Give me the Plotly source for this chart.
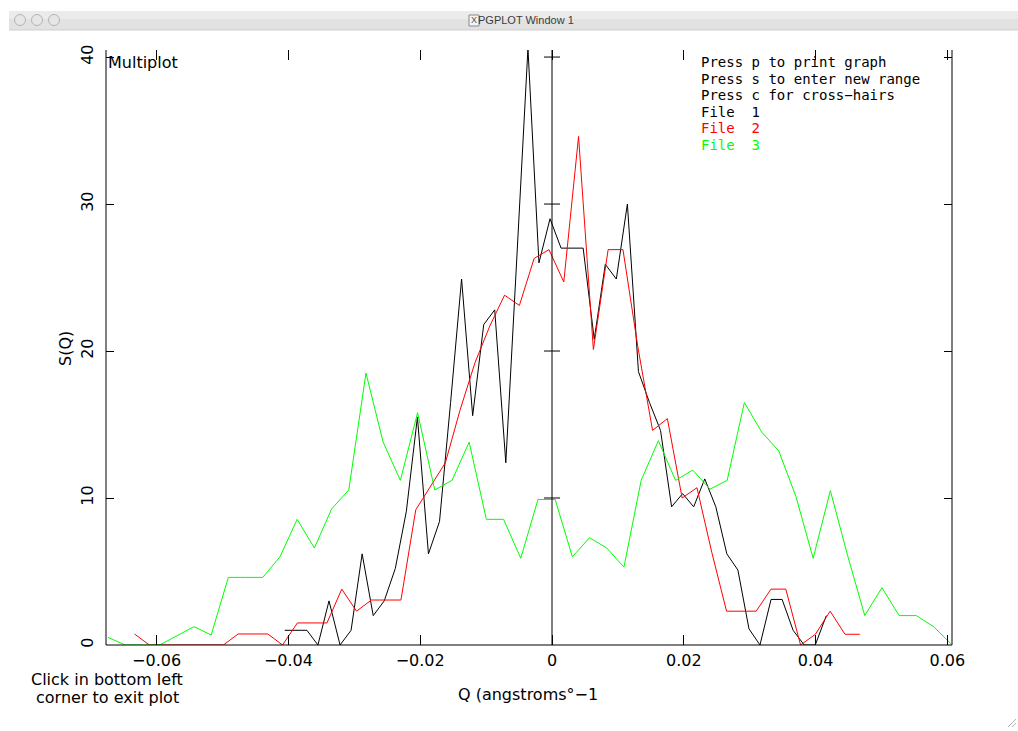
import plotly.graph_objects as go

# ---------------- data ----------------
q_file1 = [-0.04055, -0.03887, -0.03719, -0.03552, -0.03384, -0.03216, -0.03049, -0.02881,
           -0.02713, -0.02546, -0.02378, -0.02210, -0.02042, -0.01875, -0.01707, -0.01539,
           -0.01372, -0.01204, -0.01036, -0.00869, -0.00701, -0.00533, -0.00365, -0.00198,
           -0.00030, 0.00138, 0.00305, 0.00473, 0.00641, 0.00809, 0.00976, 0.01144,
           0.01312, 0.01479, 0.01647, 0.01815, 0.01982, 0.02150, 0.02318, 0.02486,
           0.02653, 0.02821, 0.02989, 0.03156, 0.03324, 0.03492, 0.03659, 0.03827,
           0.03995, 0.04163]
s_file1 = [1.0, 1.0, 1.0, 0.0, 3.0, 0.0, 1.0, 6.2, 2.0, 3.0, 5.2, 9.1, 15.5, 6.2, 8.4, 16.5,
           24.9, 15.6, 21.8, 22.8, 12.4, 26.4, 40.6, 26.0, 29.0, 27.0, 27.0, 27.0, 20.8, 25.9,
           24.9, 30.0, 18.6, 16.5, 14.6, 9.4, 10.3, 9.4, 11.3, 9.4, 6.2, 5.1, 1.1, 0.0, 3.1,
           3.1, 1.0, 0.0, 0.0, 2.0]

q_file2 = [-0.06335, -0.06110, -0.05886, -0.05661, -0.05436, -0.05212, -0.04987, -0.04763,
           -0.04538, -0.04313, -0.04089, -0.03864, -0.03640, -0.03415, -0.03190, -0.02966,
           -0.02741, -0.02517, -0.02292, -0.02067, -0.01843, -0.01618, -0.01394, -0.01169,
           -0.00944, -0.00720, -0.00495, -0.00271, -0.00046, 0.00179, 0.00403, 0.00628,
           0.00852, 0.01077, 0.01302, 0.01526, 0.01751, 0.01975, 0.02200, 0.02425,
           0.02649, 0.02874, 0.03098, 0.03323, 0.03548, 0.03772, 0.03997, 0.04221,
           0.04446, 0.04671]
s_file2 = [0.75, 0.0, 0.0, 0.0, 0.0, 0.0, 0.0, 0.75, 0.75, 0.75, 0.0, 1.5, 1.5, 1.5, 3.8, 2.3,
           3.06, 3.06, 3.06, 9.2, 10.8, 12.4, 16.0, 19.2, 21.7, 23.8, 23.1, 26.3, 26.9, 24.7,
           34.6, 20.1, 26.9, 26.9, 20.3, 14.6, 15.4, 10.0, 10.7, 6.3, 2.3, 2.3, 2.3, 3.8, 3.8,
           0.0, 0.73, 2.3, 0.73, 0.73]

q_file3 = [-0.06738, -0.06477, -0.06216, -0.05955, -0.05694, -0.05433, -0.05172, -0.04911,
           -0.04650, -0.04389, -0.04128, -0.03867, -0.03606, -0.03345, -0.03084, -0.02823,
           -0.02562, -0.02301, -0.02040, -0.01779, -0.01518, -0.01257, -0.00996, -0.00735,
           -0.00474, -0.00213, 0.00048, 0.00309, 0.00570, 0.00831, 0.01092, 0.01353,
           0.01614, 0.01875, 0.02136, 0.02397, 0.02658, 0.02919, 0.03180, 0.03441,
           0.03702, 0.03963, 0.04224, 0.04485, 0.04746, 0.05007, 0.05268, 0.05529,
           0.05790, 0.06051]
s_file3 = [0.52, 0.0, 0.0, 0.0, 0.62, 1.25, 0.68, 4.6, 4.6, 4.6, 6.0, 8.55, 6.6, 9.25, 10.55,
           18.5, 13.8, 11.2, 15.8, 10.55, 11.2, 13.8, 8.55, 8.55, 5.9, 9.9, 9.9, 6.0, 7.3, 6.6,
           5.3, 11.2, 13.9, 11.2, 11.9, 10.6, 11.2, 16.5, 14.5, 13.2, 10.1, 5.9, 10.5, 6.1,
           2.0, 3.9, 2.0, 2.0, 1.25, 0.1]

x_ticks = [-0.06, -0.04, -0.02, 0, 0.02, 0.04, 0.06]
x_tick_text = ["\u22120.06", "\u22120.04", "\u22120.02", "0", "0.02", "0.04", "0.06"]
y_ticks = [0, 10, 20, 30, 40]
help_lines = ["Press p to print graph", "Press s to enter new range",
              "Press c for cross\u2212hairs"]
file_labels = ["File\u00a0\u00a01", "File\u00a0\u00a02", "File\u00a0\u00a03"]
file_colors = ["#000000", "#ff0000", "#00ff00"]

# ---------------- layout geometry ----------------
W, H = 1018, 731
L, R, T, B = 106, 952, 50, 645          # plot frame in pixels
X_RANGE = [-0.06768, 0.0607]
Y_RANGE = [0, 40.48]
FONT = "DejaVu Sans"
MONO = "DejaVu Sans Mono"
FS = 16


def px(x):
    return (x - L) / (R - L)


def py(y):
    return (B - y) / (B - T)


fig = go.Figure()
series = [(q_file1, s_file1), (q_file2, s_file2), (q_file3, s_file3)]
for (q, s), col, name in zip(series, file_colors, file_labels):
    fig.add_trace(go.Scatter(x=q, y=s, mode="lines", name=name,
                             line=dict(color=col, width=1), hoverinfo="x+y"))

shapes = []
# frame (left, bottom, right; top edge hidden as in the reference)
line_style = dict(color="#000000", width=1)
shapes.append(dict(type="line", xref="paper", yref="paper", x0=0, x1=0, y0=0, y1=1, line=line_style))
shapes.append(dict(type="line", xref="paper", yref="paper", x0=0, x1=1, y0=0, y1=0, line=line_style))
shapes.append(dict(type="line", xref="paper", yref="paper", x0=1, x1=1, y0=0, y1=1, line=line_style))
# vertical axis through Q = 0 with cross ticks
shapes.append(dict(type="line", xref="x", yref="paper", x0=0, x1=0, y0=0, y1=1, line=line_style))
dx = 8 / ((R - L) / (X_RANGE[1] - X_RANGE[0]))
for yt in y_ticks[1:]:
    shapes.append(dict(type="line", xref="x", yref="y", x0=-dx, x1=dx, y0=yt, y1=yt, line=line_style))

# window chrome (title bar)
shapes.append(dict(type="rect", xref="paper", yref="paper", layer="below",
                   x0=px(9), x1=px(1020), y0=py(30), y1=py(11),
                   fillcolor="#e2e2e2", line=dict(width=0)))
shapes.append(dict(type="rect", xref="paper", yref="paper", layer="below",
                   x0=px(9), x1=px(1020), y0=py(19), y1=py(11),
                   fillcolor="#ebebeb", line=dict(width=0)))
shapes.append(dict(type="line", xref="paper", yref="paper",
                   x0=px(9), x1=px(1020), y0=py(30), y1=py(30),
                   line=dict(color="#cfcfcf", width=1)))
for cx in (20, 37, 54):
    shapes.append(dict(type="circle", xref="paper", yref="paper",
                       x0=px(cx - 5.5), x1=px(cx + 5.5), y0=py(25.5), y1=py(14.5),
                       fillcolor="#e6e6e6", line=dict(color="#b4b4b4", width=1)))
shapes.append(dict(type="rect", xref="paper", yref="paper",
                   x0=px(469), x1=px(479), y0=py(26), y1=py(15),
                   fillcolor="#f4f4f4", line=dict(color="#8a8a8a", width=1)))
# resize grip
for d in (4, 8):
    shapes.append(dict(type="line", xref="paper", yref="paper",
                       x0=px(1016 - d), x1=px(1016), y0=py(727), y1=py(727 - d),
                       line=dict(color="#b0b0b0", width=1)))

annotations = []


def text(s, x, y, color="#000000", size=FS, xanchor="left", angle=0, family=FONT):
    annotations.append(dict(text=s, x=px(x), y=py(y), xref="paper", yref="paper",
                            xanchor=xanchor, yanchor="middle", showarrow=False,
                            textangle=angle, font=dict(family=family, size=size, color=color)))


text("Multiplot", 106, 62)
ys = [62, 79, 95]
for s, yv in zip(help_lines, ys):
    text(s, 699, yv, size=14, family=MONO)
for s, col, yv in zip(file_labels, file_colors, [112, 128, 145]):
    text(s, 699, yv, color=col, size=14, family=MONO)
text("Click in bottom left", 107, 679, xanchor="center")
text("corner to exit plot", 107, 697, xanchor="center")
text("Q (angstroms\u00b0\u22121", 528, 694, xanchor="center")
text("S(Q)", 65, 349, xanchor="center", angle=-90)
text("PGPLOT Window 1", 526, 20, color="#3c3c3c", size=11, xanchor="center",
     family="Liberation Sans")
text("X", 474, 20.5, color="#555555", size=9, xanchor="center", family="Liberation Sans")

fig.update_layout(
    width=W, height=H,
    margin=dict(l=L, r=W - R, t=T, b=H - B, pad=0),
    paper_bgcolor="#ffffff", plot_bgcolor="#ffffff",
    showlegend=False,
    font=dict(family=FONT, size=FS, color="#000000"),
    shapes=shapes, annotations=annotations,
    xaxis=dict(range=X_RANGE, showgrid=False, zeroline=False, showline=False,
               tickmode="array", tickvals=x_ticks, ticktext=x_tick_text,
               ticks="inside", ticklen=10, tickwidth=1, tickcolor="#000000",
               mirror="ticks", ticklabelstandoff=4,
               tickfont=dict(family=FONT, size=FS, color="#000000")),
    yaxis=dict(range=Y_RANGE, showgrid=False, zeroline=False, showline=False,
               tickmode="array", tickvals=y_ticks,
               ticks="inside", ticklen=8, tickwidth=1, tickcolor="#000000",
               mirror="ticks", tickangle=-90, ticklabelstandoff=9,
               tickfont=dict(family=FONT, size=FS, color="#000000")),
)

fig.write_html("out.html", config={"displayModeBar": False},
               post_script="document.body.style.margin='0';document.body.style.overflow='hidden';")
